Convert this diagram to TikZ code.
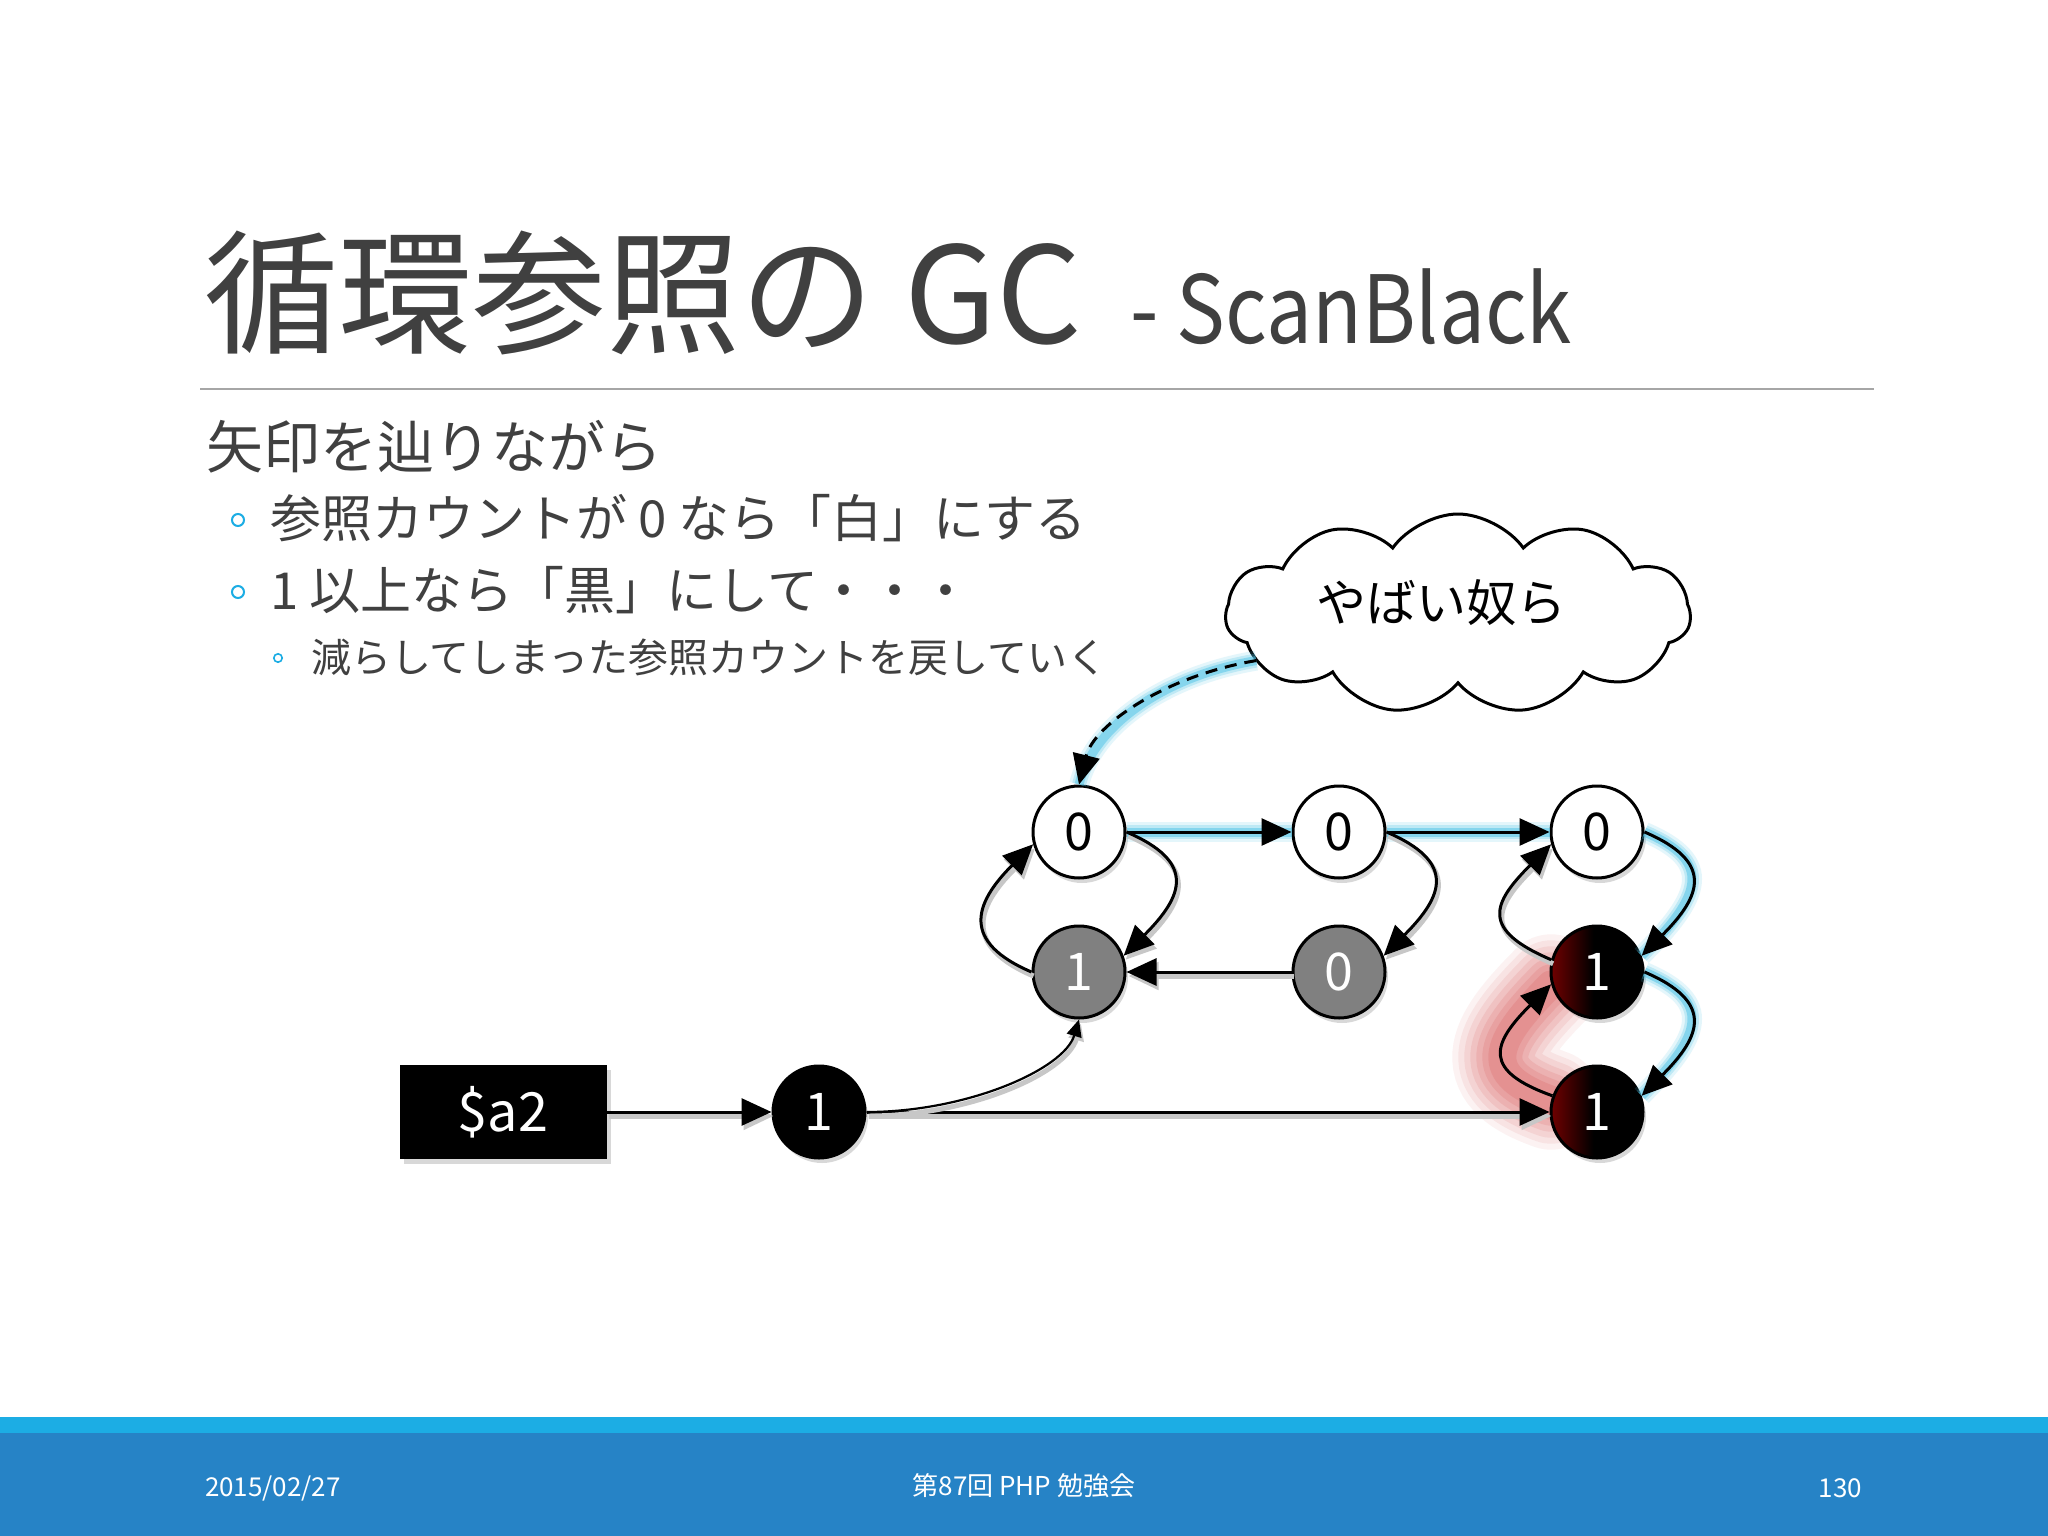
\documentclass[tikz,border=0pt]{standalone}
\usepackage{fontspec}
\setmainfont{Noto Sans CJK JP}
\usetikzlibrary{arrows.meta,shapes.symbols,shadows}
\pgfdeclarelayer{background}
\pgfsetlayers{background,main}
\definecolor{txt}{HTML}{404040}
\definecolor{lightblue}{HTML}{1CADE4}
\definecolor{darkblue}{HTML}{2683C6}
\definecolor{glowc}{HTML}{4EC3E6}
\definecolor{redglow}{HTML}{D65454}
\definecolor{nodegray}{HTML}{808080}
\definecolor{rulegray}{HTML}{A6A6A6}
\definecolor{darkred}{HTML}{700000}
\pgfdeclarehorizontalshading{redblack}{100bp}{color(0bp)=(darkred); color(25bp)=(darkred); color(48bp)=(black); color(100bp)=(black)}
\newcommand{\fsz}[1]{\fontsize{#1}{#1}\selectfont}
\begin{document}
\begin{tikzpicture}[x=1pt,y=1pt,
  every node/.style={inner sep=0pt,outer sep=0pt},
  cnode/.style={circle,draw=black,line width=3pt,minimum size=92pt,outer sep=1.5pt,font=\fsz{52},
     drop shadow={shadow xshift=3pt,shadow yshift=-5pt,opacity=.3}},
  wnode/.style={cnode,fill=white,text=black},
  gnode/.style={cnode,fill=nodegray,text=white},
  bnode/.style={cnode,fill=black,text=white},
  rnode/.style={cnode,shading=redblack,text=white},
  tip/.style={-{Triangle[length=30pt,width=27pt]}},
  smalltip/.style={-{Triangle[length=17pt,width=15pt]}},
  conn/.style={line width=3pt,draw=black},
  lshadow/.style={preaction={draw=black!22,line width=5pt,transform canvas={shift={(2pt,-4pt)}}}},
  glow/.style={preaction={draw=glowc,solid,line width=20pt,opacity=.15,-},
               preaction={draw=glowc,solid,line width=14pt,opacity=.25,-},
               preaction={draw=glowc,solid,line width=9pt,opacity=.5,-}},
  bodytext/.style={anchor=west,text=txt},
  bulletmark/.style={draw=lightblue,line width=2pt},
  foot/.style={text=white,font=\fsz{26}},
]
\begin{pgfonlayer}{background}
\fill[white] (0,0) rectangle (2048,-1536);
\end{pgfonlayer}
\useasboundingbox (0,0) rectangle (2048,-1536);

% footer
\fill[lightblue] (0,-1417) rectangle (2048,-1433);
\fill[darkblue] (0,-1433) rectangle (2048,-1536);
\node[foot,anchor=west] (date) at (205,-1488) {2015/02/27};
\node[foot] (event) at (1024,-1486) {第87回 PHP 勉強会};
\node[foot,anchor=east] (page) at (1862,-1488) {130};

% title
\node[anchor=base west,text=txt,font=\fsz{134}] (title) at (204,-343) {循環参照の GC};
\node[anchor=base west,text=txt,font=\fsz{94},xscale=0.87,transform shape] (subtitle) at (1130,-343) {- ScanBlack};
\draw[rulegray,line width=2.5pt] (200,-389) -- (1874,-389);

% body
\node[bodytext,font=\fsz{57}] (l0) at (206,-447) {矢印を辿りながら};
\draw[bulletmark] (238,-520) circle (6);
\node[bodytext,font=\fsz{51}] (l1) at (270,-518) {参照カウントが 0 なら「白」にする};
\draw[bulletmark] (238,-592) circle (6);
\node[bodytext,font=\fsz{51}] (l2) at (270,-590) {1 以上なら「黒」にして・・・};
\draw[bulletmark,line width=1.6pt] (278,-658) circle (4.2);
\node[bodytext,font=\fsz{40}] (l3) at (311,-657) {減らしてしまった参照カウントを戻していく};

% cloud
\node[cloud,cloud puffs=11,cloud puff arc=110,aspect=2.3,draw=black,line width=3pt,fill=white,
      minimum width=465pt,minimum height=200pt] (yabai) at (1458,-614) {};
\node[font=\fsz{50},text=black] (yabaitext) at (1441,-603) {やばい奴ら};

% nodes
\node[wnode] (A) at (1079,-832) {0};
\node[wnode] (B) at (1339,-832) {0};
\node[wnode] (C) at (1597,-832) {0};
\node[gnode] (D) at (1079,-972) {1};
\node[gnode] (E) at (1339,-972) {0};
\node[rnode] (F) at (1597,-972) {1};
\node[rnode] (G) at (1597,-1112) {1};
\node[bnode] (H) at (819,-1112) {1};
\node[rectangle,fill=black,minimum width=207pt,minimum height=94pt,text=white,font=\fsz{54},
      drop shadow={shadow xshift=4pt,shadow yshift=-5pt,opacity=.3}] (box) at (503,-1112) {\$a2};

% red glow
\begin{pgfonlayer}{background}
\foreach \w/\o in {100/.07,88/.09,76/.11,64/.13,52/.15,40/.17,28/.2}
  \draw[redglow,line width=\w pt,opacity=\o,line cap=round]
    (G.165) .. controls +(-70,25) and +(-60,-60) .. (F.195);
\end{pgfonlayer}

% connectors
\draw[conn,tip,lshadow] (box.east) -- (H.west);
\draw[conn,tip,lshadow] (H.east) -- (G.west);
\draw[conn,line width=2.2pt,smalltip,lshadow] (H.east) .. controls +(100,0) and +(-15,-50) .. (D.south);
\draw[conn,tip,glow] (A.east) -- (B.west);
\draw[conn,tip,glow] (B.east) -- (C.west);
\draw[conn,tip,lshadow] (A.east) .. controls +(70,-30) and +(60,60) .. (D.20);
\draw[conn,tip,lshadow] (D.west) .. controls +(-70,30) and +(-60,-60) .. (A.195);
\draw[conn,tip,lshadow] (B.east) .. controls +(70,-30) and +(60,60) .. (E.20);
\draw[conn,tip,lshadow] (E.west) -- (D.east);
\draw[conn,tip,glow] (C.east) .. controls +(70,-30) and +(60,60) .. (F.20);
\draw[conn,tip,glow] (F.east) .. controls +(70,-30) and +(60,60) .. (G.20);
\draw[conn,tip,lshadow] (F.165) .. controls +(-70,30) and +(-60,-60) .. (C.195);
\draw[conn,tip] (G.160) .. controls +(-70,25) and +(-60,-60) .. (F.195);
\draw[conn,tip,glow,dash pattern=on 12pt off 8pt] (yabai.193) .. controls +(-90,-15) and +(15,60) .. (A.north);
\end{tikzpicture}
\end{document}
